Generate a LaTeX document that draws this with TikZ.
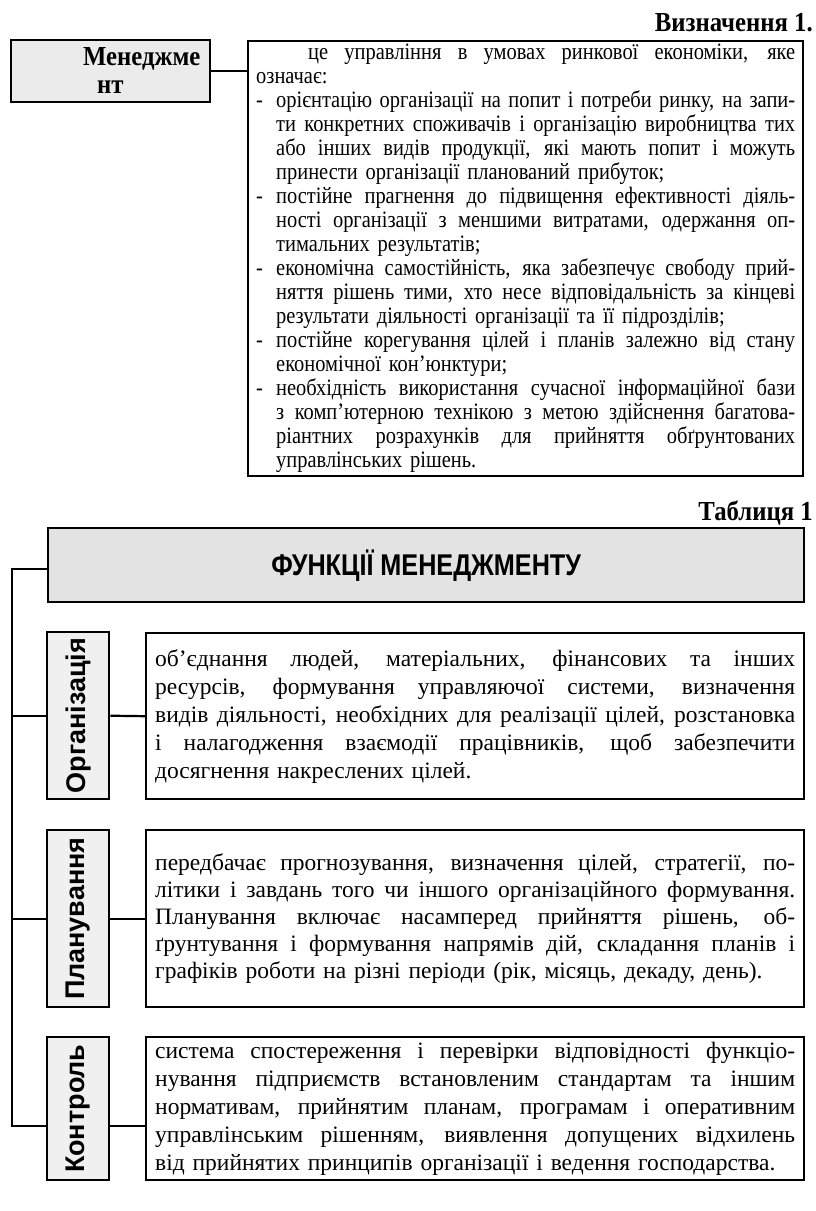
\documentclass[tikz,border=0pt]{standalone}
\usepackage{fontspec}
\setmainfont{Liberation Serif}
\newfontfamily\condserif{Liberation Serif}[FakeStretch=0.87]
\newfontfamily\titlefont{Liberation Serif Bold}[FakeStretch=0.9]
\newfontfamily\lblfont{Liberation Sans Bold}
\newfontfamily\hdrfont{Liberation Sans Bold}[FakeStretch=0.84]
\definecolor{mgrgray}{HTML}{EBEBEB}
\definecolor{hdrgray}{HTML}{E3E3E3}
\definecolor{lblgray}{HTML}{F0F0F0}
\newcommand\jline[2]{\makebox[#1][s]{\spaceskip=\fontdimen2\font plus 1fil minus 0.35\fontdimen2\font\xspaceskip=\spaceskip #2}}
\newcommand\dashitem{\makebox[20pt][l]{-}}
\newcommand\hang{\hspace*{20pt}}
\begin{document}
\begin{tikzpicture}[x=1pt,y=-1pt,
  box/.style={draw, line width=2.4pt, rectangle, inner sep=0pt, anchor=north west},
  txtbox/.style={box, fill=white, inner xsep=9pt, text width=640pt, minimum width=658pt, align=left},
  lblbox/.style={box, fill=lblgray, minimum width=62pt},
  lbltext/.style={rotate=90, inner sep=0pt, font=\lblfont\fontsize{27}{30}\selectfont},
  conn/.style={line width=2.2pt, line join=miter},
  title/.style={anchor=base east, inner sep=0pt, font=\titlefont\fontsize{27.5}{30}\selectfont}]
\useasboundingbox (0,0) rectangle (816,1211);

% ---------- Definition ----------
\node[title] (deftitle) at (813,31) {Визначення 1.};
\node[box, fill=mgrgray, minimum width=199pt, minimum height=62pt] (mgr) at (10,39) {};
\node[title, anchor=base west] (mgra) at (83,65) {Менеджме};
\node[title, anchor=base west] (mgrb) at (97,93) {нт};
\node[box, fill=white, minimum width=555pt, minimum height=435pt, text width=539pt, inner xsep=8pt, align=left,
      font=\condserif\fontsize{23.5}{24}\selectfont] (def) at (247,40) {%
\hspace*{52pt}\jline{487pt}{це управління в умовах ринкової економіки, яке}\\
означає:\\
\dashitem\jline{519pt}{орієнтацію організації на попит і потреби ринку, на запи-}\\
\hang\jline{519pt}{ти конкретних споживачів і організацію виробництва тих}\\
\hang\jline{519pt}{або інших видів продукції, які мають попит і можуть}\\
\hang принести організації планований прибуток;\\
\dashitem\jline{519pt}{постійне прагнення до підвищення ефективності діяль-}\\
\hang\jline{519pt}{ності організації з меншими витратами, одержання оп-}\\
\hang тимальних результатів;\\
\dashitem\jline{519pt}{економічна самостійність, яка забезпечує свободу прий-}\\
\hang\jline{519pt}{няття рішень тими, хто несе відповідальність за кінцеві}\\
\hang результати діяльності організації та її підрозділів;\\
\dashitem\jline{519pt}{постійне корегування цілей і планів залежно від стану}\\
\hang економічної кон’юнктури;\\
\dashitem\jline{519pt}{необхідність використання сучасної інформаційної бази}\\
\hang\jline{519pt}{з комп’ютерною технікою з метою здійснення багатова-}\\
\hang\jline{519pt}{ріантних розрахунків для прийняття обґрунтованих}\\
\hang управлінських рішень.};
\draw[conn] (mgr.east) -- (mgr.east -| def.west);

% ---------- Table ----------
\node[title] (tabtitle) at (813,520) {Таблиця 1};
\node[box, fill=hdrgray, minimum width=756pt, minimum height=74pt,
      font=\hdrfont\fontsize{30}{32}\selectfont] (hdr) at (47,527) {ФУНКЦІЇ МЕНЕДЖМЕНТУ};

% Organisation
\node[lblbox, minimum height=167pt] (org) at (46,631) {};
\node[lbltext] (orgl) at (org.center) {Організація};
\node[txtbox, minimum height=166pt, font=\fontsize{23.5}{28}\selectfont] (orgt) at (145,632) {%
\jline{640pt}{об’єднання людей, матеріальних, фінансових та інших}\\
\jline{640pt}{ресурсів, формування управляючої системи, визначення}\\
\jline{640pt}{видів діяльності, необхідних для реалізації цілей, розстановка}\\
\jline{640pt}{і налагодження взаємодії працівників, щоб забезпечити}\\
досягнення накреслених цілей.};

% Planning
\node[lblbox, minimum height=177pt] (plan) at (46,829) {};
\node[lbltext] (planl) at (plan.center) {Планування};
\node[txtbox, minimum height=177pt, font=\fontsize{23.5}{27}\selectfont] (plant) at (145,829) {%
\jline{640pt}{передбачає прогнозування, визначення цілей, стратегії, по-}\\
\jline{640pt}{літики і завдань того чи іншого організаційного формування.}\\
\jline{640pt}{Планування включає насамперед прийняття рішень, об-}\\
\jline{640pt}{ґрунтування і формування напрямів дій, складання планів і}\\
графіків роботи на різні періоди (рік, місяць, декаду, день).};

% Control
\node[lblbox, minimum height=143pt] (ctl) at (46,1036) {};
\node[lbltext] (ctll) at (ctl.center) {Контроль};
\node[txtbox, minimum height=143pt, font=\fontsize{23.5}{28}\selectfont] (ctlt) at (145,1036) {%
\jline{640pt}{система спостереження і перевірки відповідності функціо-}\\
\jline{640pt}{нування підприємств встановленим стандартам та іншим}\\
\jline{640pt}{нормативам, прийнятим планам, програмам і оперативним}\\
\jline{640pt}{управлінським рішенням, виявлення допущених відхилень}\\
від прийнятих принципів організації і ведення господарства.};

% Connectors
\coordinate (s0) at (12,569);
\coordinate (s3) at (12,1126);
\draw[conn] (s0 -| hdr.west) -- (s0) -- (s3) -- (s3 -| ctl.west);
\draw[conn] (org.west -| s0) -- (org.west);
\draw[conn] (plan.west -| s0) -- (plan.west);
\draw[conn] (org.east) -- (orgt.west);
\draw[conn] (plan.east) -- (plant.west);
\draw[conn] (s3 -| ctl.east) -- (s3 -| ctlt.west);
\end{tikzpicture}
\end{document}
